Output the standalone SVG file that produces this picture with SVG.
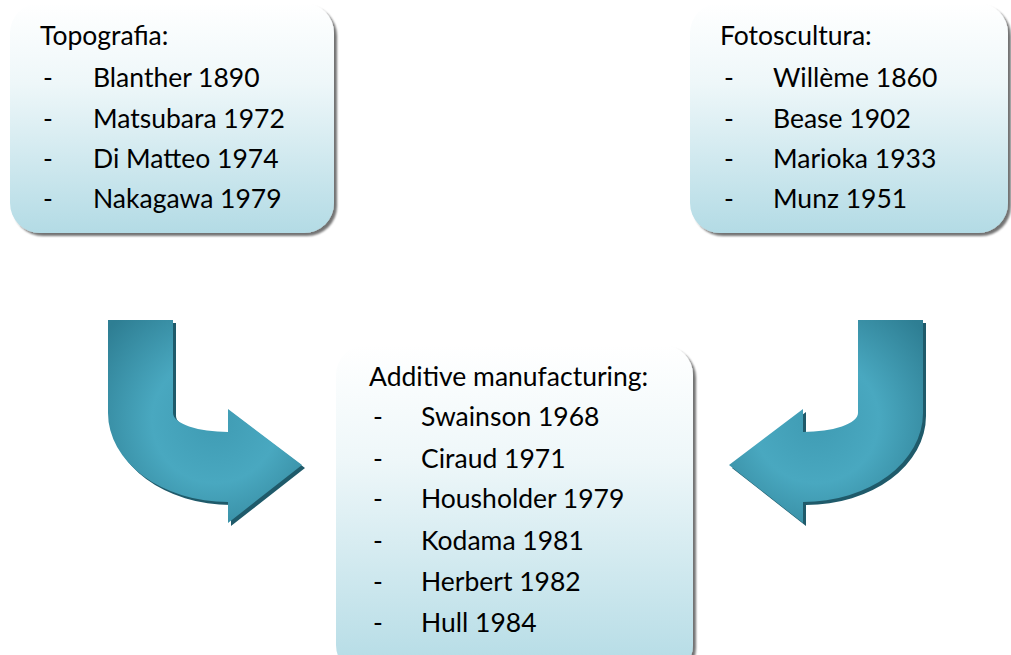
<svg xmlns="http://www.w3.org/2000/svg" width="1011" height="655" viewBox="0 0 1011 655">
  <defs>
    <linearGradient id="boxFill" x1="0" y1="0" x2="0" y2="1">
      <stop offset="0" stop-color="#ffffff"/>
      <stop offset="0.35" stop-color="#eef7f9"/>
      <stop offset="1" stop-color="#b3dbe5"/>
    </linearGradient>
    <radialGradient id="arrowFill" gradientUnits="userSpaceOnUse" cx="215" cy="420" r="140">
      <stop offset="0" stop-color="#3f9bb3"/>
      <stop offset="0.45" stop-color="#49a8c0"/>
      <stop offset="1" stop-color="#2e7e93"/>
    </radialGradient>
    <filter id="boxShadow" x="-5%" y="-5%" width="115%" height="115%">
      <feGaussianBlur in="SourceAlpha" stdDeviation="1"/>
      <feOffset dx="2.5" dy="2.5" result="off"/>
      <feComponentTransfer>
        <feFuncA type="linear" slope="0.55"/>
      </feComponentTransfer>
      <feMerge>
        <feMergeNode/>
        <feMergeNode in="SourceGraphic"/>
      </feMerge>
    </filter>
    <!-- bent arrow shape: down, then curving right into a head -->
    <path id="bentArrow" d="M108,320 L173,320 L173,413 A55,19 0 0 0 228,432 L228,409 L302,465 L228,523 L228,502 A120,89 0 0 1 108,413 Z"/>
  </defs>
  <style>
    .box { fill: url(#boxFill); filter: url(#boxShadow); }
    .txt { font-family: Lato, "Open Sans", sans-serif; font-size: 26.5px; fill: #000; }
    .arrow { fill: url(#arrowFill); }
    .arrowShade { fill: #1f5a6a; }
  </style>

  <g id="connectors">
    <g id="arrow-left">
      <use href="#bentArrow" class="arrowShade" transform="translate(3,3)"/>
      <use href="#bentArrow" class="arrow"/>
    </g>
    <g id="arrow-right">
      <use href="#bentArrow" class="arrowShade" transform="translate(1034,3) scale(-1,1)"/>
      <use href="#bentArrow" class="arrow" transform="translate(1031,0) scale(-1,1)"/>
    </g>
  </g>

  <g id="node-topografia">
    <rect class="box" x="10" y="3" width="324" height="230" rx="30" ry="30"/>
    <text class="txt" x="40" y="45">Topografia:</text>
    <text class="txt" x="43" y="87">-</text><text class="txt" x="93" y="87">Blanther 1890</text>
    <text class="txt" x="43" y="128">-</text><text class="txt" x="93" y="128">Matsubara 1972</text>
    <text class="txt" x="43" y="168">-</text><text class="txt" x="93" y="168">Di Matteo 1974</text>
    <text class="txt" x="43" y="208">-</text><text class="txt" x="93" y="208">Nakagawa 1979</text>
  </g>

  <g id="node-fotoscultura">
    <rect class="box" x="690" y="3" width="318" height="230" rx="30" ry="30"/>
    <text class="txt" x="720" y="45">Fotoscultura:</text>
    <text class="txt" x="724" y="87">-</text><text class="txt" x="773" y="87">Willème 1860</text>
    <text class="txt" x="724" y="128">-</text><text class="txt" x="773" y="128">Bease 1902</text>
    <text class="txt" x="724" y="168">-</text><text class="txt" x="773" y="168">Marioka 1933</text>
    <text class="txt" x="724" y="208">-</text><text class="txt" x="773" y="208">Munz 1951</text>
  </g>

  <g id="node-additive">
    <rect class="box" x="336" y="345" width="357" height="330" rx="30" ry="30"/>
    <text class="txt" x="369" y="386">Additive manufacturing:</text>
    <text class="txt" x="373" y="426">-</text><text class="txt" x="421" y="426">Swainson 1968</text>
    <text class="txt" x="373" y="468">-</text><text class="txt" x="421" y="468">Ciraud 1971</text>
    <text class="txt" x="373" y="508">-</text><text class="txt" x="421" y="508">Housholder 1979</text>
    <text class="txt" x="373" y="550">-</text><text class="txt" x="421" y="550">Kodama 1981</text>
    <text class="txt" x="373" y="591">-</text><text class="txt" x="421" y="591">Herbert 1982</text>
    <text class="txt" x="373" y="632">-</text><text class="txt" x="421" y="632">Hull 1984</text>
  </g>
</svg>
